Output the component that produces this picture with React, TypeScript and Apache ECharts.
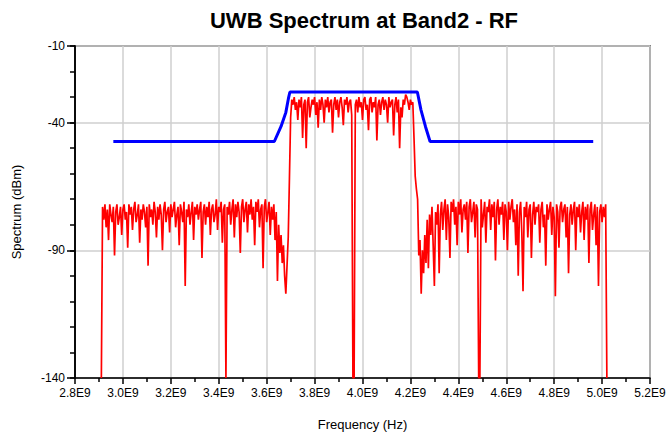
import React, { useEffect, useRef } from 'react';
import * as echarts from 'echarts';

// ---------- data ----------
const chartTitle = 'UWB Spectrum at Band2 - RF';
const xAxisTitle = 'Frequency (Hz)';
const yAxisTitle = 'Spectrum (dBm)';

// x axis: 2.8E9 .. 5.2E9 every 0.2E9
const xMinHz = 2.8e9;
const xMaxHz = 5.2e9;
const xStepHz = 0.2e9;
// y axis: -140 .. -10, labelled ticks
const yMin = -140;
const yMax = -10;
const yLabelStep = 50;
const yMinorStep = 10;

// red spectrum, sampled every 5 MHz from 2.910E9
const redStartHz = 2.91e9;
const redStepHz = 5e6;
// lower out-of-band block (2.910E9 .. 3.690E9)
const redLowBand = [
  -140, -73, -78, -72, -81, -74, -86, -72, -76, -79, -73, -92, -75, -72, -80, -77, -73, -84, -74, -72,
  -78, -75, -89, -72, -76, -73, -82, -74, -71, -79, -76, -72, -87, -74, -78, -72, -75, -81, -73, -96,
  -72, -77, -74, -80, -71, -75, -85, -73, -78, -72, -76, -90, -74, -71, -79, -75, -73, -83, -72, -77,
  -74, -71, -81, -76, -73, -88, -72, -75, -79, -71, -104, -74, -77, -72, -80, -75, -71, -86, -73, -76,
  -72, -78, -74, -71, -93, -75, -72, -80, -73, -77, -71, -84, -74, -72, -79, -76, -70, -82, -73, -75,
  -71, -87, -74, -72, -140, -73, -76, -71, -80, -74, -70, -85, -72, -77, -71, -75, -91, -73, -70, -79,
  -74, -71, -83, -72, -76, -70, -78, -73, -88, -71, -75, -70, -81, -74, -72, -97, -73, -70, -79, -75,
  -71, -84, -73, -78, -72, -86, -75, -102, -80, -91, -84, -95, -88, -100, -107, -96, -85,
];
// in-band block (3.695E9 .. 4.225E9)
const redInBand = [
  -62, -38, -31, -33, -30, -35, -32, -39, -31, -34, -30, -46, -33, -31, -50, -32, -30, -38, -34, -31,
  -33, -30, -37, -32, -42, -31, -35, -30, -33, -40, -31, -34, -30, -36, -32, -31, -44, -33, -30, -35,
  -31, -38, -32, -30, -34, -41, -31, -33, -30, -36, -32, -31, -37, -140, -140, -33, -31, -36, -30, -34,
  -32, -39, -31, -30, -35, -33, -43, -31, -30, -36, -32, -34, -30, -47, -33, -31, -37, -32, -30, -35,
  -31, -33, -40, -30, -34, -32, -31, -45, -33, -30, -36, -31, -50, -34, -38, -31, -33, -29, -30, -32,
  -35, -31, -33, -32, -46, -61, -66,
];
// upper out-of-band block (4.230E9 .. 5.020E9)
const redHighBand = [
  -70, -92, -86, -107, -90, -99, -84, -95, -78, -97, -76, -84, -73, -88, -104, -75, -80, -72, -99, -76,
  -71, -82, -74, -70, -86, -72, -77, -93, -71, -75, -70, -80, -73, -88, -71, -76, -70, -83, -74, -72,
  -78, -71, -91, -73, -70, -79, -75, -71, -85, -72, -74, -140, -140, -70, -81, -76, -71, -87, -73, -75,
  -70, -82, -72, -77, -71, -94, -74, -70, -80, -73, -76, -71, -86, -72, -75, -90, -71, -78, -73, -70,
  -79, -74, -88, -72, -100, -75, -71, -83, -106, -73, -77, -71, -85, -74, -72, -93, -76, -71, -80, -73,
  -75, -72, -87, -74, -71, -81, -76, -96, -72, -78, -74, -71, -84, -73, -77, -108, -72, -75, -89, -73,
  -71, -79, -74, -72, -85, -73, -99, -76, -72, -80, -74, -71, -90, -73, -77, -72, -83, -75, -71, -86,
  -73, -78, -72, -95, -74, -71, -82, -76, -72, -88, -73, -104, -75, -72, -79, -73, -77, -72, -140,
];

// blue spectral mask
const maskFreqHz = [2.96e9, 3.632e9, 3.66e9, 3.68e9, 3.692e9, 3.697e9, 4.229e9, 4.244e9, 4.263e9, 4.282e9, 4.963e9];
const maskDbm = [-47.4, -47.4, -41.5, -36, -30, -28, -28, -35, -41.6, -47.4, -47.4];

// ---------- chart ----------
const FONT = '"Liberation Sans", Arial, Helvetica, sans-serif';

export default function App() {
  const ref = useRef<HTMLDivElement>(null);

  useEffect(() => {
    if (!ref.current) return;
    const chart = echarts.init(ref.current, null, { renderer: 'svg' });

    const redDbm = [...redLowBand, ...redInBand, ...redHighBand];
    const redData = redDbm.map((v, i) => [redStartHz + i * redStepHz, v]);
    const maskData = maskFreqHz.map((f, i) => [f, maskDbm[i]]);

    const axisLineStyle = { color: '#000000', width: 1.5 };
    const gridLineStyle = { color: '#cfcfcf', width: 1.5, type: 'solid' as const };

    chart.setOption({
      animation: false,
      backgroundColor: '#ffffff',
      textStyle: { fontFamily: FONT },
      title: {
        text: chartTitle,
        left: 359,
        top: 4,
        textAlign: 'center',
        textStyle: { fontSize: 22, fontWeight: 'bold', color: '#000000', fontFamily: FONT },
      },
      grid: {
        left: 75,
        right: 21,
        top: 46,
        bottom: 60,
        show: true,
        borderColor: '#222222',
        borderWidth: 1.5,
        backgroundColor: 'transparent',
      },
      xAxis: {
        type: 'value',
        min: xMinHz,
        max: xMaxHz,
        interval: xStepHz,
        name: xAxisTitle,
        nameLocation: 'middle',
        nameGap: 40,
        nameTextStyle: { fontSize: 13, color: '#000000', fontFamily: FONT },
        axisLine: { show: true, onZero: false, lineStyle: axisLineStyle },
        axisTick: { show: true, inside: false, length: 6, lineStyle: { color: '#000000', width: 1.5 } },
        minorTick: { show: true, splitNumber: 2, length: 4, lineStyle: { color: '#000000', width: 1.5 } },
        axisLabel: {
          show: true,
          margin: 9,
          fontSize: 12,
          color: '#000000',
          fontFamily: FONT,
          formatter: (v: number) => (v / 1e9).toFixed(1) + 'E9',
        },
        splitLine: { show: true, lineStyle: gridLineStyle },
        minorSplitLine: { show: false },
      },
      yAxis: [
        {
          type: 'value',
          min: yMin,
          max: yMax,
          interval: yMinorStep,
          position: 'left',
          axisLine: { show: true, onZero: false, lineStyle: axisLineStyle },
          axisTick: { show: true, inside: false, length: 5, lineStyle: { color: '#000000', width: 1.5 } },
          axisLabel: { show: false },
          splitLine: { show: false },
        },
        {
          type: 'value',
          min: yMin,
          max: yMax,
          interval: yLabelStep,
          position: 'left',
          name: yAxisTitle,
          nameLocation: 'middle',
          nameGap: 52,
          nameTextStyle: { fontSize: 13, color: '#000000', fontFamily: FONT },
          axisLine: { show: true, onZero: false, lineStyle: axisLineStyle },
          axisTick: { show: true, inside: false, length: 8, lineStyle: { color: '#000000', width: 1.5 } },
          axisLabel: { show: true, margin: 10, fontSize: 12, color: '#000000', fontFamily: FONT },
          splitLine: { show: true, lineStyle: gridLineStyle },
        },
      ],
      series: [
        {
          name: 'Spectrum',
          type: 'line',
          xAxisIndex: 0,
          yAxisIndex: 0,
          data: redData,
          showSymbol: false,
          symbol: 'none',
          silent: true,
          clip: true,
          z: 3,
          lineStyle: { color: '#ff0000', width: 1.7 },
        },
        {
          name: 'Mask',
          type: 'line',
          xAxisIndex: 0,
          yAxisIndex: 0,
          data: maskData,
          showSymbol: false,
          symbol: 'none',
          silent: true,
          z: 4,
          lineStyle: { color: '#0000ff', width: 3 },
        },
      ],
    });

    return () => {
      chart.dispose();
    };
  }, []);

  return (
    <div
      ref={ref}
      style={{ position: 'fixed', left: 0, top: 0, width: 671, height: 438, background: '#ffffff' }}
    />
  );
}
